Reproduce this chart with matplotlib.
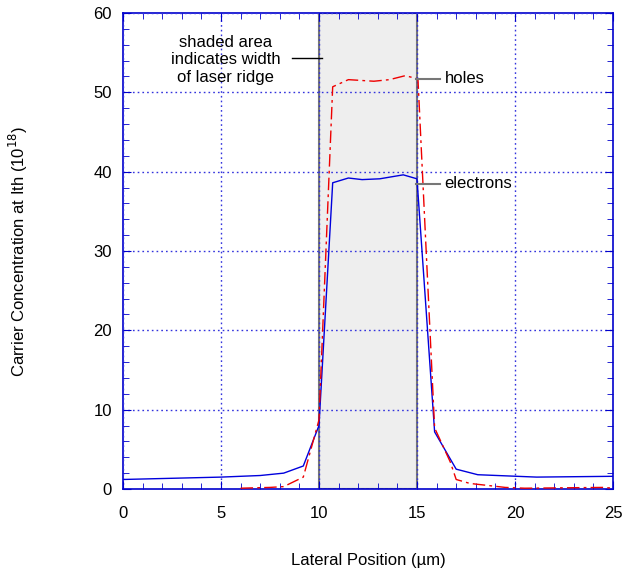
import matplotlib
matplotlib.use("Agg")
import matplotlib.pyplot as plt
from matplotlib.ticker import MultipleLocator

plt.rcParams['font.family'] = ['Liberation Sans', 'DejaVu Sans']

# electron concentration along the lateral position
x_elec = [0, 5, 7, 8.2, 9.2, 10.0, 10.7, 11.5, 12.2, 13.1, 14.3, 15.0,
          15.9, 17.0, 18.1, 20.1, 21.1, 25]
n_elec = [1.2, 1.5, 1.7, 2.0, 2.9, 8.0, 38.6, 39.2, 39.0, 39.1, 39.6, 39.1,
          7.2, 2.5, 1.8, 1.6, 1.5, 1.6]

# hole concentration
x_hole = [6.0, 7.5, 8.2, 9.2, 10.0, 10.7, 11.5, 12.8, 13.6, 14.4, 15.05,
          15.9, 16.7, 17.0, 17.7, 19.5, 20.5, 24.5, 25]
n_hole = [0.1, 0.2, 0.3, 1.5, 8.7, 50.7, 51.6, 51.4, 51.6, 52.1, 51.7,
          7.7, 3.4, 1.2, 0.7, 0.2, 0.1, 0.2, 0.1]

ridge = (10, 15)
FS = 12

fig = plt.figure(figsize=(6.22, 5.73), dpi=100)
ax = fig.add_axes([0.1977, 0.1466, 0.7878, 0.8307])

ax.axvspan(ridge[0], ridge[1], facecolor='#eeeeee', edgecolor='#777777',
           linewidth=1.5, zorder=0)

ax.plot(x_elec, n_elec, color='#0000dd', linewidth=1.0, zorder=3)
ax.plot(x_hole, n_hole, color='#ee0000', linewidth=1.0,
        dashes=(9, 3, 2, 3), zorder=3)

ax.set_xlim(0, 25)
ax.set_ylim(0, 60)
ax.xaxis.set_major_locator(MultipleLocator(5))
ax.xaxis.set_minor_locator(MultipleLocator(1))
ax.yaxis.set_major_locator(MultipleLocator(10))
ax.yaxis.set_minor_locator(MultipleLocator(2))

ax.grid(True, which='major', color='#3333dd', linestyle=(0, (1.2, 2.2)),
        linewidth=1.0, zorder=1)
ax.set_axisbelow(False)
for s in ax.spines.values():
    s.set_color('#0000cc')
    s.set_linewidth(1.2)
ax.tick_params(which='both', direction='in', top=True, right=True,
               color='#0000cc', labelsize=FS)
ax.tick_params(which='major', length=6)
ax.tick_params(which='minor', length=4)
ax.tick_params(axis='x', which='major', pad=12)
ax.tick_params(axis='y', which='major', pad=8)

ax.set_xlabel('Lateral Position (\u00b5m)', fontsize=FS)
ax.set_ylabel('Carrier Concentration at Ith (10$^{18}$)', fontsize=FS)
ax.xaxis.set_label_coords(0.5, -0.134)
ax.yaxis.set_label_coords(-0.19, 0.5)

ax.text(5.25, 54.1, 'shaded area\nindicates width\nof laser ridge',
        ha='center', va='center', fontsize=FS, linespacing=1.2)
ax.plot([8.6, 10.15], [54.3, 54.3], color='black', linewidth=1.0, zorder=4)

ax.plot([14.95, 16.2], [51.7, 51.7], color='#777777', linewidth=1.5, zorder=4)
ax.text(16.4, 51.7, 'holes', ha='left', va='center', fontsize=FS)
ax.plot([14.95, 16.2], [38.5, 38.5], color='#777777', linewidth=1.5, zorder=4)
ax.text(16.4, 38.5, 'electrons', ha='left', va='center', fontsize=FS)

fig.savefig('out.png', dpi=100)
